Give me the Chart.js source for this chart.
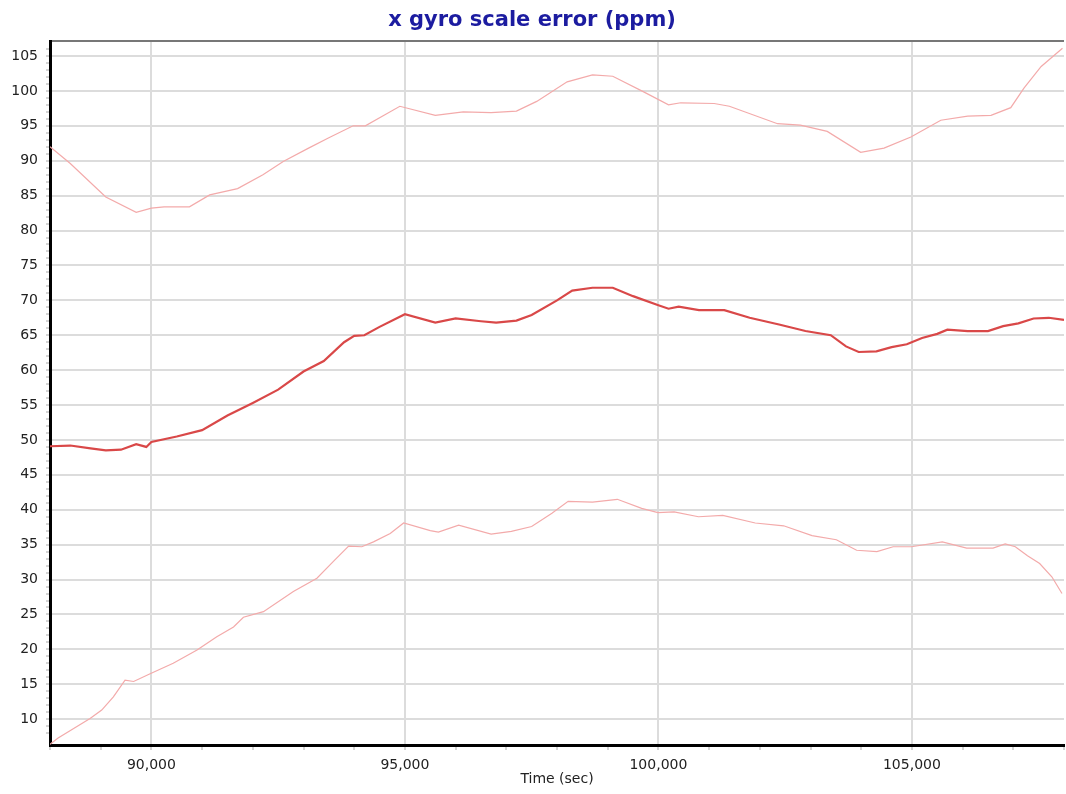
<!DOCTYPE html>
<html>
<head>
<meta charset="utf-8">
<script src="https://cdn.jsdelivr.net/npm/chart.js@4/dist/chart.umd.min.js"></script>
<style>
  html, body { margin: 0; padding: 0; background: #fff; }
  #gyroChart { display: block; }
</style>
</head>
<body>
<canvas id="gyroChart" width="1066" height="794"></canvas>
<script>
// upper bound of the estimate
var upperTime = [88000, 88400, 89100, 89700, 90000, 90250, 90750, 91150, 91700, 92200,
    92600, 93100, 93500, 93980, 94220, 94900, 95600, 96150, 96700, 97200,
    97600, 98200, 98700, 99100, 99700, 100200, 100440, 101100, 101400, 102350,
    102800, 103330, 103990, 104450, 104980, 105570, 106100, 106560, 106950, 107210,
    107550, 107970];
var upperPpm = [92.0, 89.6, 84.8, 82.6, 83.2, 83.4, 83.4, 85.1, 86.0, 88.0,
    89.9, 91.8, 93.3, 95.0, 95.0, 97.8, 96.5, 97.0, 96.9, 97.1,
    98.5, 101.3, 102.3, 102.1, 99.9, 98.0, 98.3, 98.2, 97.8, 95.3,
    95.1, 94.2, 91.2, 91.8, 93.4, 95.8, 96.4, 96.5, 97.6, 100.4,
    103.5, 106.1];

// estimate
var estTime = [88000, 88400, 88800, 89100, 89400, 89700, 89900, 90000, 90500, 91000,
    91500, 92000, 92500, 93000, 93400, 93800, 94000, 94200, 94500, 95000,
    95600, 96000, 96500, 96800, 97200, 97500, 98000, 98300, 98700, 99100,
    99500, 100000, 100200, 100400, 100800, 101300, 101800, 102400, 102900, 103400,
    103700, 103950, 104300, 104600, 104900, 105200, 105500, 105700, 106100, 106500,
    106800, 107100, 107400, 107700, 108000];
var estPpm = [49.1, 49.2, 48.8, 48.5, 48.6, 49.4, 49.0, 49.7, 50.5, 51.4,
    53.5, 55.3, 57.2, 59.8, 61.3, 64.0, 64.9, 65.0, 66.2, 68.0,
    66.8, 67.4, 67.0, 66.8, 67.1, 67.9, 70.0, 71.4, 71.8, 71.8,
    70.6, 69.3, 68.8, 69.1, 68.6, 68.6, 67.5, 66.5, 65.6, 65.0,
    63.4, 62.6, 62.7, 63.3, 63.7, 64.6, 65.2, 65.8, 65.6, 65.6,
    66.3, 66.7, 67.4, 67.5, 67.2];

// lower bound of the estimate
var lowerTime = [88000, 88160, 88790, 89020, 89250, 89480, 89650, 89975, 90430, 90900,
    91290, 91620, 91815, 92210, 92800, 93265, 93590, 93890, 94150, 94380,
    94710, 94975, 95500, 95660, 96060, 96700, 97100, 97500, 97900, 98220,
    98700, 99190, 99670, 99990, 100310, 100790, 101270, 101910, 102470, 103030,
    103510, 103910, 104310, 104630, 104990, 105600, 106080, 106600, 106840, 107040,
    107280, 107520, 107760, 107960];
var lowerPpm = [6.4, 7.3, 10.1, 11.3, 13.2, 15.6, 15.4, 16.5, 18.0, 19.9,
    21.8, 23.2, 24.6, 25.4, 28.3, 30.2, 32.6, 34.8, 34.7, 35.4,
    36.6, 38.1, 37.0, 36.8, 37.8, 36.5, 36.9, 37.6, 39.5, 41.2,
    41.1, 41.5, 40.2, 39.6, 39.7, 39.0, 39.2, 38.1, 37.7, 36.3,
    35.7, 34.2, 34.0, 34.7, 34.7, 35.4, 34.5, 34.5, 35.1, 34.7,
    33.4, 32.3, 30.4, 28.0];

var xMin = 88000, xMax = 108000;
var yMin = 6.3, yMax = 107.15;

function toPoints(xs, ys) {
    var pts = [];
    for (var i = 0; i < xs.length; i++) {
        pts.push({ x: xs[i], y: ys[i] });
    }
    return pts;
}

var gridGrey = '#dcdcdc';
var labelFont = { family: 'DejaVu Sans', size: 14 };

var gyroChart;
var ctx = document.getElementById('gyroChart').getContext('2d');
gyroChart = new Chart(ctx, {
    type: 'line',
    data: {
        datasets: [{
            label: 'upper',
            data: toPoints(upperTime, upperPpm),
            borderColor: '#f3aaaa',
            borderWidth: 1.2
        }, {
            label: 'estimate',
            data: toPoints(estTime, estPpm),
            borderColor: '#d94848',
            borderWidth: 2.2
        }, {
            label: 'lower',
            data: toPoints(lowerTime, lowerPpm),
            borderColor: '#f3aaaa',
            borderWidth: 1.2
        }]
    },
    options: {
        responsive: false,
        animation: false,
        events: [],
        layout: { padding: { left: 0, right: 2, top: 0, bottom: 0 } },
        elements: {
            point: { radius: 0 },
            line: { tension: 0 }
        },
        plugins: {
            legend: { display: false },
            tooltip: { enabled: false },
            title: {
                display: true,
                text: 'x gyro scale error (ppm)',
                color: '#1c1ca0',
                font: { family: 'DejaVu Sans', size: 21, weight: 'bold', lineHeight: 1.2 },
                padding: { top: 8, bottom: 7.8 }
            }
        },
        scales: {
            x: {
                type: 'linear',
                min: xMin,
                max: xMax,
                afterFit: function(scale) {
                    scale.height = 49;
                    // no extra room for the (blank) end labels
                    scale.paddingLeft = 0;
                    scale.paddingRight = 0;
                },
                ticks: {
                    stepSize: 1000,
                    autoSkip: false,
                    maxRotation: 0,
                    padding: 7,
                    color: '#222',
                    font: labelFont,
                    callback: function(value) {
                        if (value % 5000 !== 0) return '';
                        return value.toLocaleString('en-US');
                    }
                },
                grid: {
                    lineWidth: 2,
                    color: function(c) {
                        var v = c.tick ? c.tick.value : 0;
                        if (v === xMin || v === xMax) return 'transparent';
                        return v % 5000 === 0 ? gridGrey : 'transparent';
                    },
                    tickColor: '#aaa',
                    tickLength: 5,
                    tickWidth: 1
                },
                border: { color: '#000', width: 3 },
                title: {
                    display: true,
                    text: 'Time (sec)',
                    color: '#222',
                    font: labelFont,
                    padding: { top: 0, bottom: 6 }
                }
            },
            y: {
                min: yMin,
                max: yMax,
                afterFit: function(scale) { scale.width = 50; },
                ticks: {
                    stepSize: 1,
                    autoSkip: false,
                    padding: 8,
                    color: '#222',
                    font: labelFont,
                    callback: function(value) {
                        if (Math.abs(value - Math.round(value)) > 0.001) return '';
                        return value % 5 === 0 ? String(value) : '';
                    }
                },
                grid: {
                    lineWidth: 2,
                    color: function(c) {
                        var v = c.tick ? c.tick.value : 0;
                        if (v === yMax) return '#777';
                        if (v === yMin) return 'transparent';
                        return (v % 5 === 0) ? gridGrey : 'transparent';
                    },
                    tickColor: function(c) {
                        var v = c.tick ? c.tick.value : 0;
                        if (v === yMax || v === yMin) return 'transparent';
                        return '#aaa';
                    },
                    tickLength: 4,
                    tickWidth: 1
                },
                border: { color: '#000', width: 3 }
            }
        }
    }
});
</script>
</body>
</html>
